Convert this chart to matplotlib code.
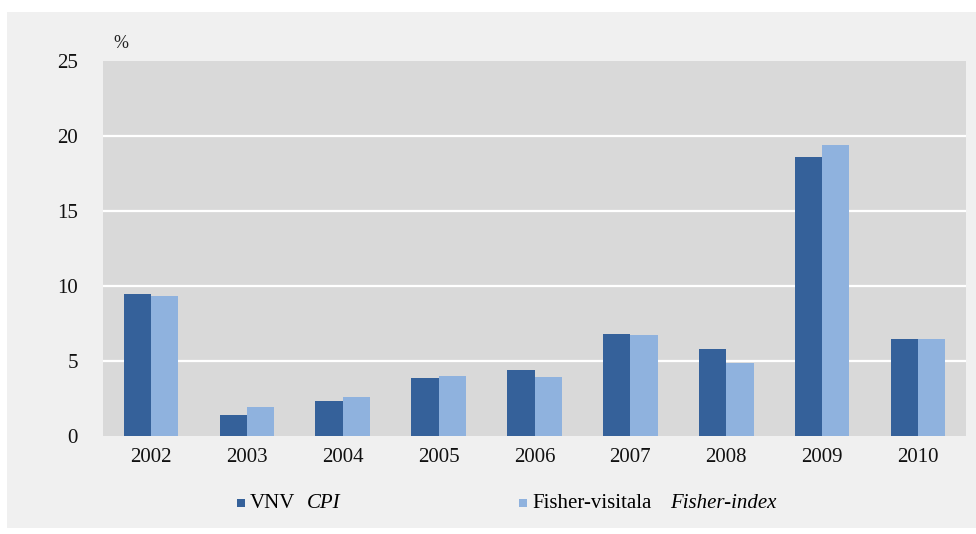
import numpy as np
import matplotlib.pyplot as plt
from matplotlib.patches import Rectangle

# data
years = ['2002', '2003', '2004', '2005', '2006', '2007', '2008', '2009', '2010']
vnv = [9.45, 1.4, 2.35, 3.9, 4.4, 6.8, 5.8, 18.6, 6.5]
fisher = [9.35, 1.95, 2.6, 4.0, 3.95, 6.75, 4.85, 19.4, 6.45]

dark = '#35619a'
light = '#8fb2de'

plt.rcParams['font.family'] = ['Liberation Serif', 'DejaVu Serif']

fig = plt.figure(figsize=(9.76, 5.34), dpi=100)
fig.patch.set_facecolor('white')
# light grey panel behind the whole chart
fig.patches.append(Rectangle((7 / 976, 1 - 528 / 534), 969 / 976, 516 / 534,
                             transform=fig.transFigure, facecolor='#f0f0f0',
                             edgecolor='none', zorder=-10))

ax = fig.add_axes([103 / 976, 1 - 436 / 534, 863 / 976, 375 / 534])
ax.set_facecolor('#d9d9d9')

x = np.arange(len(years))
w = 0.285
ax.bar(x - w / 2, vnv, w, color=dark, zorder=3)
ax.bar(x + w / 2, fisher, w, color=light, zorder=3)

ax.set_xlim(-0.5, len(years) - 0.5)
ax.set_ylim(0, 25)
ax.set_yticks([0, 5, 10, 15, 20, 25])
ax.set_xticks(x)
ax.set_xticklabels(years)
ax.tick_params(length=0, labelsize=15, colors='#111111')
ax.tick_params(axis='x', pad=9)
ax.tick_params(axis='y', pad=18)
for yv in [5, 10, 15, 20]:
    ax.axhline(yv, color='white', lw=1.6, zorder=1)
for s in ax.spines.values():
    s.set_visible(False)

fig.text(113 / 976, 1 - 43 / 534, '%', fontsize=13, va='center', ha='left', color='#222222')

# legend, drawn by hand to get the mixed upright/italic labels
ly = 1 - 503 / 534
sq = 8
fig.patches.append(Rectangle((237 / 976, ly - sq / 2 / 534), sq / 976, sq / 534,
                             transform=fig.transFigure, facecolor=dark, edgecolor='none'))
fig.text(250 / 976, ly, 'VNV', fontsize=15, va='center', ha='left')
fig.text(307 / 976, ly, 'CPI', fontsize=15, style='italic', va='center', ha='left')
fig.patches.append(Rectangle((519 / 976, ly - sq / 2 / 534), sq / 976, sq / 534,
                             transform=fig.transFigure, facecolor=light, edgecolor='none'))
fig.text(532 / 976, ly, 'Fisher-visitala', fontsize=15, va='center', ha='left')
fig.text(670 / 976, ly, 'Fisher-index', fontsize=15, style='italic', va='center', ha='left')

fig.savefig('out.png', dpi=100, facecolor=fig.get_facecolor())
